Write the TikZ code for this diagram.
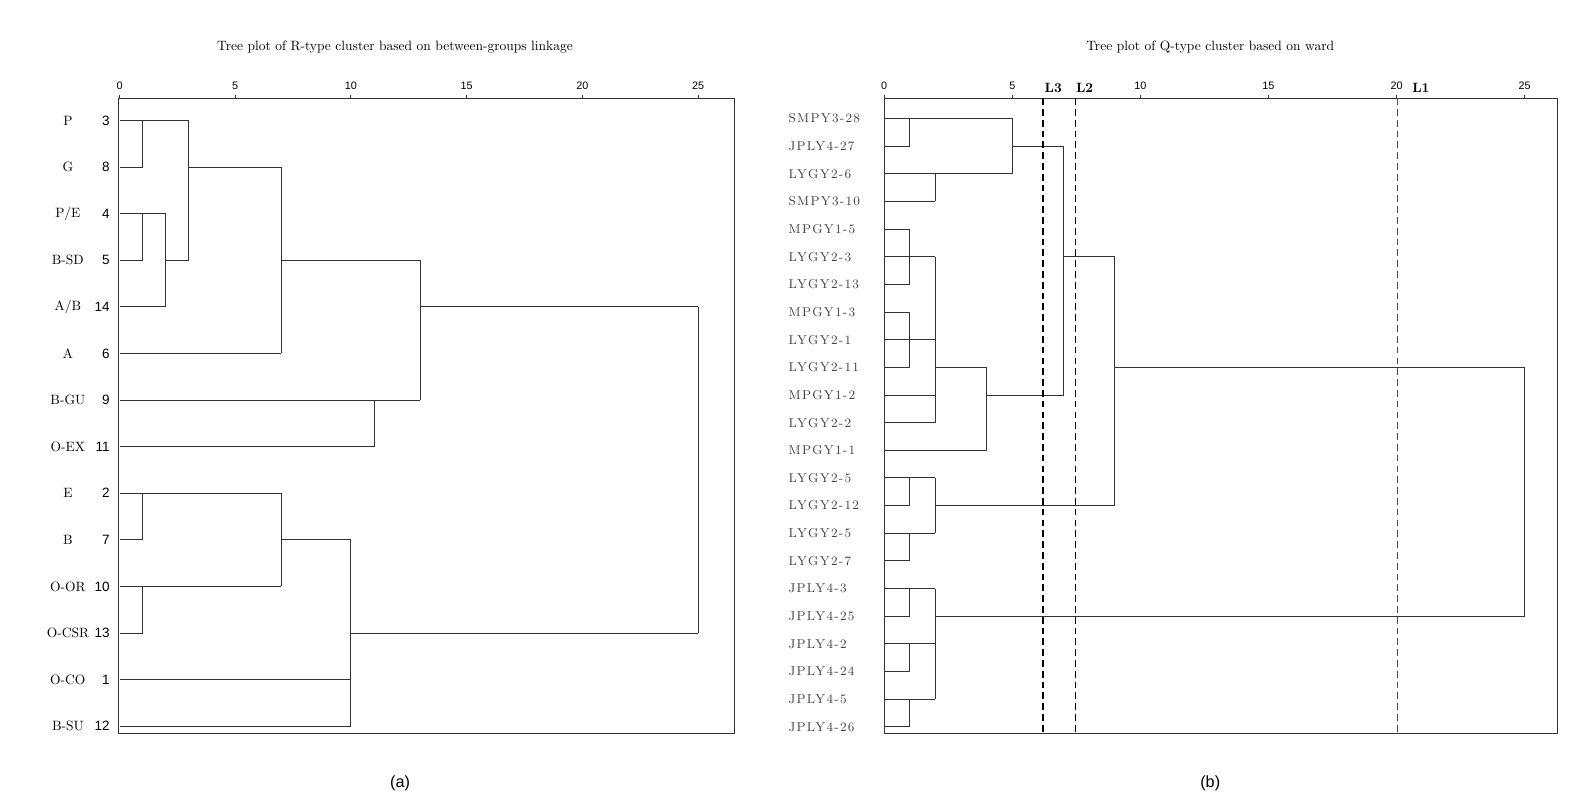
\documentclass[tikz,border=0pt]{standalone}
\usepackage{fontspec}
\newfontfamily\sansf{Liberation Sans}
\newfontfamily\spaced{Latin Modern Roman}[LetterSpace=10]
\begin{document}
\begin{tikzpicture}[x=0.75pt,y=-0.75pt,
  ln/.style={line width=0.7pt,black!80},
  tick/.style={font=\sansf\fontsize{8}{9}\selectfont,anchor=south},
  lab/.style={font=\fontsize{10}{11}\selectfont,anchor=center},
  rlab/.style={font=\spaced\fontsize{9.5}{11}\selectfont,anchor=west,text=black!75},
  num/.style={font=\sansf\fontsize{10}{11}\selectfont,anchor=east},
  ttl/.style={font=\fontsize{10}{12}\selectfont},
  cut/.style={line width=1.1pt,dashed,dash pattern=on 5pt off 3pt}]
\useasboundingbox (0,0) rectangle (1568,789);
% ---------- left ----------
\def\LX#1{118+22.85*#1}
\def\LY#1{119+46*(#1-1)}
\node[ttl] (ta) at (390,47) {Tree plot of R-type cluster based on between-groups linkage};
\node[font=\sansf\fontsize{12}{14}\selectfont] (ca) at (395,773) {(a)};
\draw[ln] (117,97) rectangle (725,724);
\foreach \t in {0,5,...,25}{\draw[ln] ({\LX{\t}},97) -- ({\LX{\t}},94); \node[tick] at ({\LX{\t}},93) {\t};}
\foreach \i/\n/\m in {1/P/3,2/G/8,3/P\slash E/4,4/B-SD/5,5/A\slash B/14,6/A/6,7/B-GU/9,8/O-EX/11,9/E/2,10/B/7,11/O-OR/10,12/O-CSR/13,13/O-CO/1,14/B-SU/12}{
  \node[lab] at (67,{\LY{\i}}) {\n};
  \node[num] at (113,{\LY{\i}}) {\m};}
\foreach \r/\a/\b in {1/0/3,2/0/1,2/3/7,3/0/2,4/0/1,4/2/3,4/7/13,5/0/2,5/13/25,6/0/7,7/0/13,8/0/11,
  9/0/7,10/0/1,10/7/10,11/0/7,12/0/1,12/10/25,13/0/10,14/0/10}
  \draw[ln] ({\LX{\a}},{\LY{\r}}) -- ({\LX{\b}},{\LY{\r}});
\foreach \x/\p/\q in {1/1/2,3/1/4,1/3/4,2/3/5,7/2/6,13/4/7,11/7/8,25/5/12,1/9/10,7/9/11,1/11/12,10/10/14}
  \draw[ln] ({\LX{\x}},{\LY{\p}}) -- ({\LX{\x}},{\LY{\q}});
% ---------- right ----------
\def\RX#1{873+25.3*#1}
\def\RY#1{117+27.3*(#1-1)}
\node[ttl] (tb) at (1195,47) {Tree plot of Q-type cluster based on ward};
\node[font=\sansf\fontsize{12}{14}\selectfont] (cb) at (1195,773) {(b)};
\draw[ln] (873,97) rectangle (1538,724);
\foreach \t in {0,5,...,25}{\draw[ln] ({\RX{\t}},97) -- ({\RX{\t}},94); \node[tick] at ({\RX{\t}},93) {\t};}
\foreach \i/\n in {1/SMPY3-28,2/JPLY4-27,3/LYGY2-6,4/SMPY3-10,5/MPGY1-5,6/LYGY2-3,7/LYGY2-13,8/MPGY1-3,9/LYGY2-1,10/LYGY2-11,11/MPGY1-2,12/LYGY2-2,13/MPGY1-1,14/LYGY2-5,15/LYGY2-12,16/LYGY2-5,17/LYGY2-7,18/JPLY4-3,19/JPLY4-25,20/JPLY4-2,21/JPLY4-24,22/JPLY4-5,23/JPLY4-26}
  \node[rlab] at (774,{\RY{\i}}) {\n};
\foreach \r/\a/\b in {1/0/5,2/0/1,2/5/7,3/0/5,4/0/2,5/0/1,6/0/2,6/7/9,7/0/1,8/0/1,9/0/2,10/0/1,10/2/4,10/9/25,
  11/0/2,11/4/7,12/0/2,13/0/4,14/0/2,15/0/1,15/2/9,16/0/2,17/0/1,18/0/2,19/0/1,19/2/25,20/0/2,21/0/1,22/0/2,23/0/1}
  \draw[ln] ({\RX{\a}},{\RY{\r}}) -- ({\RX{\b}},{\RY{\r}});
\foreach \x/\p/\q in {1/1/2,5/1/3,2/3/4,7/2/11,1/5/7,2/6/12,1/8/10,4/10/13,9/6/15,1/14/15,2/14/16,1/16/17,
  25/10/19,1/18/19,2/18/22,1/20/21,1/22/23}
  \draw[ln] ({\RX{\x}},{\RY{\p}}) -- ({\RX{\x}},{\RY{\q}});
\coordinate (l3t) at (1030,97); \coordinate (l3b) at (1030,724);
\coordinate (l2t) at (1062,97); \coordinate (l2b) at (1062,724);
\coordinate (l1t) at (1380,97); \coordinate (l1b) at (1380,724);
\draw[cut] (l3t) -- (l3b); \draw[cut] (l2t) -- (l2b); \draw[cut,black!70] (l1t) -- (l1b);
\node[font=\bfseries\fontsize{10}{11}\selectfont] (L3) at (1040,87) {L3};
\node[font=\bfseries\fontsize{10}{11}\selectfont] (L2) at (1071,87) {L2};
\node[font=\bfseries\fontsize{10}{11}\selectfont] (L1) at (1403,87) {L1};
\end{tikzpicture}
\end{document}
